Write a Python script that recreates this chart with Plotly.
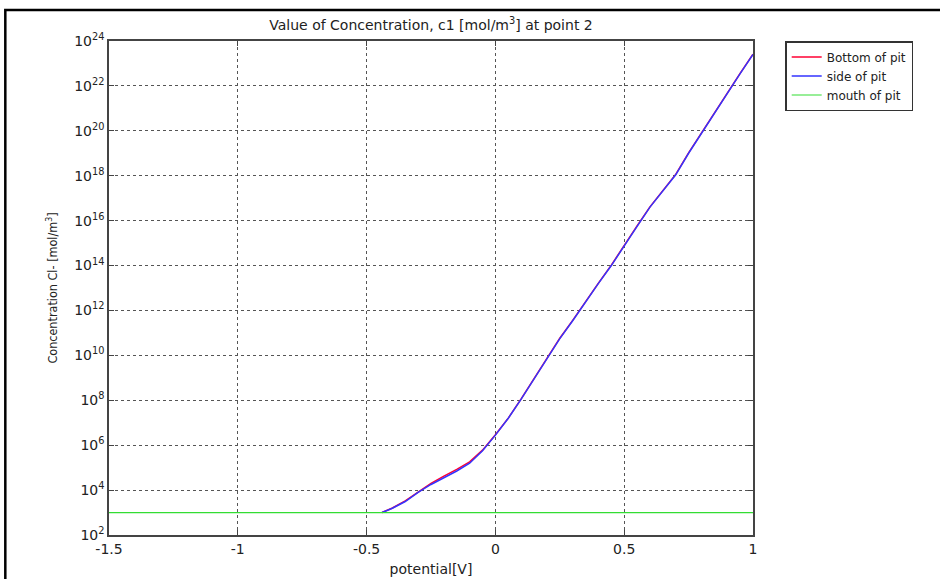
import plotly.graph_objects as go

potential = [-0.44, -0.40, -0.35, -0.30, -0.25, -0.20, -0.15, -0.10, -0.05, 0.00,
             0.05, 0.10, 0.15, 0.20, 0.25, 0.30, 0.35, 0.40, 0.45, 0.50,
             0.55, 0.60, 0.65, 0.70, 0.75, 0.80, 0.85, 0.90, 0.95, 1.00]

bottom_of_pit = [1.0e3, 1.6e3, 3.3e3, 8.5e3, 2.0e4, 4.2e4, 8.3e4, 1.8e5, 6.0e5, 2.9e6,
                 1.6e7, 1.15e8, 9.0e8, 6.5e9, 5.8e10, 3.6e11, 2.6e12, 1.65e13, 1.05e14, 8.2e14,
                 5.8e15, 4.1e16, 2.3e17, 1.15e18, 1.05e19, 8.2e19, 6.5e20, 5.2e21, 3.6e22, 2.6e23]

side_of_pit = [1.0e3, 1.55e3, 3.1e3, 7.9e3, 1.78e4, 3.55e4, 7.1e4, 1.58e5, 5.6e5, 2.8e6,
               1.58e7, 1.12e8, 8.9e8, 6.3e9, 5.6e10, 3.5e11, 2.5e12, 1.6e13, 1.0e14, 7.9e14,
               5.6e15, 4.0e16, 2.2e17, 1.1e18, 1.0e19, 7.9e19, 6.3e20, 5.0e21, 3.5e22, 2.5e23]

mouth_potential = [-1.5, 1.0]
mouth_of_pit = [1.0e3, 1.0e3]

x_ticks = [-1.5, -1, -0.5, 0, 0.5, 1]
x_tick_labels = ["-1.5", "-1", "-0.5", "0", "0.5", "1"]
y_exponents = [2, 4, 6, 8, 10, 12, 14, 16, 18, 20, 22, 24]

font_main = "DejaVu Sans, Verdana, sans-serif"
font_narrow = "DejaVu Sans Condensed, Liberation Sans Narrow, sans-serif"

fig = go.Figure()
fig.add_trace(go.Scatter(x=potential, y=bottom_of_pit, mode="lines", name="Bottom of pit",
                         line=dict(color="#ff0033", width=1.5)))
fig.add_trace(go.Scatter(x=potential, y=side_of_pit, mode="lines", name="side of pit",
                         line=dict(color="#3333ff", width=1.5)))
fig.add_trace(go.Scatter(x=mouth_potential, y=mouth_of_pit, mode="lines", name="mouth of pit",
                         line=dict(color="#33dd33", width=1.2)))

fig.update_layout(
    width=940, height=579,
    margin=dict(l=109, r=187, t=41, b=44, autoexpand=False),
    paper_bgcolor="white", plot_bgcolor="white",
    title=dict(text="Value of Concentration, c1 [mol/m<sup>3</sup>] at point 2",
               x=0.5, xref="paper", xanchor="center", y=0.956, yanchor="middle",
               font=dict(family=font_main, size=14, color="#222")),
    font=dict(family=font_main, size=13, color="#222"),
    showlegend=True,
    legend=dict(x=1.05, y=1.0, xanchor="left", yanchor="top",
                bordercolor="#333", borderwidth=1.5, bgcolor="white",
                font=dict(family=font_main, size=12, color="#222"),
                tracegroupgap=0, itemwidth=30),
    shapes=[dict(type="rect", xref="paper", yref="paper",
                 x0=-0.161, x1=1.5, y0=-0.5, y1=1.063,
                 line=dict(color="black", width=2.5))],
)

fig.update_xaxes(
    range=[-1.5, 1.0], tickvals=x_ticks, ticktext=x_tick_labels,
    showline=True, linecolor="#444", linewidth=1.5, mirror="ticks",
    ticks="inside", ticklen=5, tickcolor="#444",
    showgrid=True, gridcolor="#555", griddash="dot", gridwidth=1,
    zeroline=False, automargin=False,
    title=dict(text="potential[V]", font=dict(family=font_main, size=14), standoff=9),
    tickfont=dict(family=font_main, size=14),
)

fig.update_yaxes(
    type="log", range=[2, 24],
    tickvals=[float(10.0 ** e) for e in y_exponents],
    ticktext=["10<sup>%d</sup>" % e for e in y_exponents],
    showline=True, linecolor="#444", linewidth=1.5, mirror="ticks",
    ticks="inside", ticklen=5, tickcolor="#444",
    showgrid=True, gridcolor="#555", griddash="dot", gridwidth=1,
    zeroline=False, automargin=False,
    title=dict(text="Concentration Cl- [mol/m<sup>3</sup>]",
               font=dict(family=font_narrow, size=12.5), standoff=14),
    tickfont=dict(family=font_main, size=14),
)

fig.write_html("out.html")
